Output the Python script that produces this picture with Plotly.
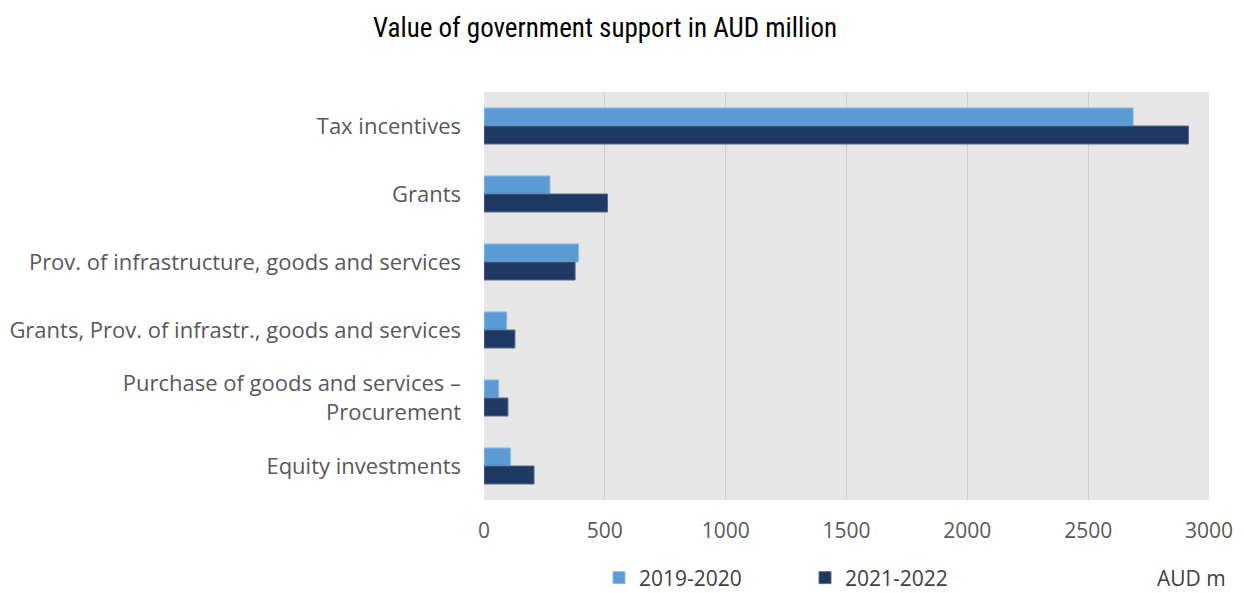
import plotly.graph_objects as go

categories = [
    "Tax incentives",
    "Grants",
    "Prov. of infrastructure, goods and services",
    "Grants, Prov. of infrastr., goods and services",
    "Purchase of goods and services –<br>Procurement",
    "Equity investments",
]
values_2019_2020 = [2686, 273, 391, 94, 61, 110]
values_2021_2022 = [2915, 511, 377, 128, 99, 207]
x_ticks = [0, 500, 1000, 1500, 2000, 2500, 3000]

base_family = "Open Sans, Lato, sans-serif"
y_font = dict(family=base_family, size=22, color="#595959")
x_font = dict(family=base_family, size=21, color="#595959")
legend_font = dict(family=base_family, size=21, color="#404040")

fig = go.Figure()
fig.add_trace(go.Bar(
    name="2019-2020", y=categories, x=values_2019_2020, orientation="h",
    marker=dict(color="#5b9bd5", line=dict(color="#8fbbe3", width=1)),
    legend="legend",
))
fig.add_trace(go.Bar(
    name="2021-2022", y=categories, x=values_2021_2022, orientation="h",
    marker=dict(color="#1f3864", line=dict(color="#5a6a8a", width=1)),
    legend="legend2",
))

legend_common = dict(
    orientation="h", xanchor="left", xref="container",
    y=1 - 578 / 593, yanchor="middle", yref="container",
    font=legend_font, itemwidth=30, bgcolor="rgba(0,0,0,0)",
)

fig.update_layout(
    width=1244, height=593,
    margin=dict(l=484, r=35, t=92, b=93),
    paper_bgcolor="white",
    plot_bgcolor="#e6e6e6",
    barmode="group",
    bargap=0.47,
    bargroupgap=0,
    title=dict(
        text="Value of government support in AUD million",
        x=605 / 1244, xanchor="center", xref="container",
        y=1 - 28 / 593, yanchor="middle", yref="container",
        font=dict(family="Liberation Sans Narrow, Roboto Condensed, Arial Narrow, sans-serif",
                  size=27, color="#000000"),
    ),
    xaxis=dict(
        range=[0, 3000], tickvals=x_ticks, showgrid=True,
        gridcolor="#cfcfcf", gridwidth=1, zeroline=False,
        tickfont=x_font, ticks="", ticklabelstandoff=16, automargin=False,
    ),
    yaxis=dict(
        autorange="reversed", tickfont=y_font, ticks="",
        ticklabelstandoff=22, showgrid=False, automargin=False,
    ),
    legend=dict(x=599 / 1244, **legend_common),
    legend2=dict(x=805 / 1244, **legend_common),
    annotations=[dict(
        text="AUD m", xref="paper", yref="paper",
        x=1.026, y=-0.19, xanchor="right", yanchor="middle",
        showarrow=False, font=legend_font,
    )],
    showlegend=True,
)

fig.write_html("out.html")
